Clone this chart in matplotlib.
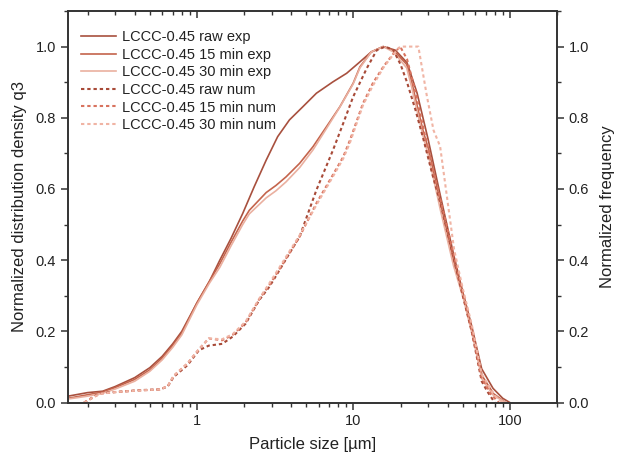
import matplotlib
matplotlib.use("Agg")
import matplotlib.pyplot as plt
from matplotlib.ticker import LogLocator, MultipleLocator, NullFormatter, FixedLocator, FixedFormatter

plt.rcParams['font.family'] = ['Liberation Sans', 'DejaVu Sans']

# ---- data ----
raw_exp_x = [0.15, 0.2, 0.25, 0.3, 0.4, 0.5, 0.6, 0.7, 0.8, 1.0, 1.2, 1.4, 1.65, 1.96, 2.32, 2.77, 3.28,
             3.9, 4.75, 5.8, 7.4, 9.05, 11, 13, 15.5, 18.5, 22, 25.5, 30, 36, 44, 50, 57, 66, 78, 90, 100]
raw_exp_y = [0.018, 0.028, 0.032, 0.045, 0.07, 0.098, 0.13, 0.165, 0.2, 0.28, 0.34, 0.4, 0.461, 0.531, 0.606,
             0.681, 0.747, 0.794, 0.831, 0.869, 0.901, 0.925, 0.957, 0.985, 1.0, 0.99, 0.955, 0.87, 0.74,
             0.58, 0.41, 0.31, 0.215, 0.095, 0.04, 0.012, 0.0]

exp_x = [0.15, 0.2, 0.25, 0.3, 0.4, 0.5, 0.6, 0.7, 0.8, 1.0, 1.2, 1.4, 1.65, 1.96, 2.16, 2.77, 3.2, 3.71,
         4.53, 5.52, 6.73, 8.19, 9.96, 11, 13, 15.5, 18, 21.9, 23.6, 25.5, 28, 30.3, 36, 43.6, 50.6, 57.5,
         66.5, 78.6, 94]
exp15_y = [0.012, 0.022, 0.03, 0.042, 0.065, 0.092, 0.125, 0.16, 0.195, 0.28, 0.34, 0.39, 0.45, 0.51, 0.54,
           0.59, 0.61, 0.634, 0.672, 0.719, 0.775, 0.831, 0.897, 0.943, 0.985, 1.0, 0.99, 0.95, 0.9, 0.835,
           0.76, 0.71, 0.56, 0.4, 0.3, 0.2, 0.075, 0.025, 0.0]
exp30_y = [0.01, 0.018, 0.026, 0.038, 0.06, 0.088, 0.12, 0.155, 0.19, 0.275, 0.335, 0.38, 0.44, 0.5, 0.53,
           0.575, 0.595, 0.62, 0.66, 0.71, 0.77, 0.83, 0.895, 0.94, 0.985, 1.0, 0.985, 0.94, 0.885, 0.82,
           0.745, 0.69, 0.54, 0.385, 0.29, 0.19, 0.065, 0.02, 0.0]

rawnum_x = [0.19, 0.24, 0.31, 0.43, 0.58, 0.65, 0.71, 0.87, 1.03, 1.19, 1.45, 1.69, 2.05, 2.5, 2.9, 3.37,
            3.9, 4.53, 5.8, 7.4, 8.6, 9.96, 10.5, 12.2, 14.1, 16, 18, 20, 22, 25, 28, 32, 36, 44, 50, 57,
            66, 72, 80]
rawnum_y = [0.0, 0.027, 0.03, 0.035, 0.037, 0.045, 0.072, 0.105, 0.147, 0.16, 0.165, 0.185, 0.222, 0.288,
            0.325, 0.372, 0.419, 0.466, 0.597, 0.709, 0.784, 0.859, 0.88, 0.94, 0.99, 1.0, 0.99, 0.95, 0.9,
            0.82, 0.74, 0.64, 0.56, 0.4, 0.3, 0.2, 0.06, 0.03, 0.0]

num15_x = [0.19, 0.24, 0.31, 0.43, 0.58, 0.65, 0.71, 0.87, 1.03, 1.19, 1.45, 1.69, 2.05, 2.5, 2.9, 3.37,
           3.9, 4.53, 5.8, 7.4, 8.6, 9.5, 11.5, 13.3, 15.5, 18, 19.9, 22, 25, 28, 32, 36, 44, 50, 57, 66,
           75, 85]
num15_y = [0.0, 0.025, 0.03, 0.034, 0.037, 0.046, 0.075, 0.11, 0.15, 0.18, 0.175, 0.19, 0.225, 0.29, 0.33,
           0.375, 0.42, 0.466, 0.56, 0.64, 0.69, 0.737, 0.84, 0.897, 0.943, 0.98, 1.0, 0.965, 0.87, 0.77,
           0.66, 0.57, 0.41, 0.31, 0.205, 0.07, 0.025, 0.0]

num30_x = [0.19, 0.24, 0.31, 0.43, 0.58, 0.65, 0.71, 0.87, 1.03, 1.19, 1.45, 1.69, 2.05, 2.5, 2.9, 3.37,
           3.9, 4.53, 5.8, 7.4, 8.6, 9.5, 11.5, 13.3, 15.5, 18, 19.9, 26, 29.5, 32.5, 35.8, 44, 50, 57, 66,
           80, 90]
num30_y = [0.0, 0.025, 0.03, 0.034, 0.037, 0.046, 0.075, 0.11, 0.15, 0.18, 0.178, 0.192, 0.228, 0.292, 0.335,
           0.38, 0.425, 0.47, 0.555, 0.635, 0.685, 0.73, 0.835, 0.89, 0.94, 0.978, 1.0, 1.0, 0.86, 0.765,
           0.72, 0.43, 0.32, 0.22, 0.08, 0.02, 0.0]

labels = ["LCCC-0.45 raw exp", "LCCC-0.45 15 min exp", "LCCC-0.45 30 min exp",
          "LCCC-0.45 raw num", "LCCC-0.45 15 min num", "LCCC-0.45 30 min num"]
yticks = [0.0, 0.2, 0.4, 0.6, 0.8, 1.0]
xticks = [1, 10, 100]

fig = plt.figure(figsize=(6.2, 4.58), dpi=100)
ax = fig.add_axes([0.1097, 0.121, 0.7887, 0.855])

dash = (0, (1.6, 1.4))
ax.plot(raw_exp_x, raw_exp_y, color='#a8503e', lw=1.2, label=labels[0])
ax.plot(exp_x, exp15_y, color='#c4644c', lw=1.2, label=labels[1])
ax.plot(exp_x, exp30_y, color='#eab0a0', lw=1.2, label=labels[2])
ax.plot(rawnum_x, rawnum_y, color='#a84a38', lw=1.5, ls=dash, label=labels[3])
ax.plot(num15_x, num15_y, color='#d8735e', lw=1.5, ls=dash, label=labels[4])
ax.plot(num30_x, num30_y, color='#f0b4a4', lw=1.5, ls=dash, label=labels[5])

ax.set_xscale('log')
ax.set_xlim(0.15, 200)
ax.set_ylim(0, 1.1)
ax.xaxis.set_major_locator(FixedLocator(xticks))
ax.xaxis.set_major_formatter(FixedFormatter([str(v) for v in xticks]))
ax.xaxis.set_minor_locator(LogLocator(base=10, subs=range(2, 10), numticks=20))
ax.xaxis.set_minor_formatter(NullFormatter())
ax.yaxis.set_major_locator(FixedLocator(yticks))
ax.yaxis.set_major_formatter(FixedFormatter([f"{v:.1f}" for v in yticks]))
ax.yaxis.set_minor_locator(MultipleLocator(0.1))

for s in ax.spines.values():
    s.set_color('#333333')
    s.set_linewidth(1.2)

ax.tick_params(axis='both', which='major', direction='out', length=5, width=1.1, color='#333333',
               labelsize=10.5, labelcolor='#222222')
ax.tick_params(axis='both', which='minor', direction='out', length=3, width=1.0, color='#333333')
ax.tick_params(axis='x', which='both', top=True, bottom=True)
ax.tick_params(axis='y', which='both', right=False)

# top ticks inward via secondary axis
top = ax.secondary_xaxis('top')
top.set_xscale('log') if hasattr(top, 'set_xscale') else None
top.xaxis.set_major_locator(FixedLocator(xticks))
top.xaxis.set_minor_locator(LogLocator(base=10, subs=range(2, 10), numticks=20))
top.xaxis.set_major_formatter(NullFormatter())
top.xaxis.set_minor_formatter(NullFormatter())
top.tick_params(which='major', direction='in', length=5, width=1.1, color='#333333')
top.tick_params(which='minor', direction='in', length=3, width=1.0, color='#333333')
ax.tick_params(axis='x', which='both', top=False)
top.spines['top'].set_visible(False)

ax.set_xlabel("Particle size [µm]", fontsize=12, color='#222222', labelpad=6)
ax.set_ylabel("Normalized distribution density q3", fontsize=12, color='#222222', labelpad=6)

ax2 = ax.twinx()
ax2.set_ylim(0, 1.1)
ax2.yaxis.set_major_locator(FixedLocator(yticks))
ax2.yaxis.set_major_formatter(FixedFormatter([f"{v:.1f}" for v in yticks]))
ax2.yaxis.set_minor_locator(MultipleLocator(0.1))
ax2.tick_params(axis='y', which='major', direction='out', length=5, width=1.1, color='#333333',
                labelsize=10.5, labelcolor='#222222')
ax2.tick_params(axis='y', which='minor', direction='out', length=3, width=1.0, color='#333333')
for s in ax2.spines.values():
    s.set_color('#333333')
    s.set_linewidth(1.2)
ax2.set_ylabel("Normalized frequency", fontsize=12, color='#222222', labelpad=8)

leg = ax.legend(loc='upper left', bbox_to_anchor=(0.0, 0.985), frameon=False, fontsize=10.5,
                handlelength=2.4, handletextpad=0.4, labelspacing=0.25, borderaxespad=0.5)
for t in leg.get_texts():
    t.set_color('#222222')

fig.savefig("out.png", dpi=100)
